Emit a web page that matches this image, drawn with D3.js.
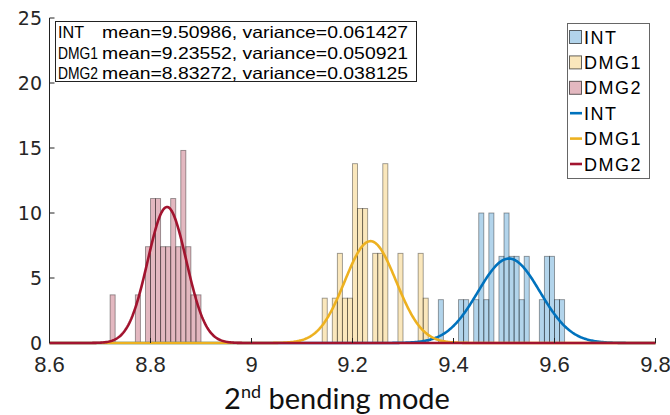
<!DOCTYPE html>
<html>
<head>
<meta charset="utf-8">
<script src="https://cdn.jsdelivr.net/npm/d3@7"></script>
<style>
  body { margin: 0; background: #fff; }
  svg { display: block; }
</style>
</head>
<body>
<svg id="chart" width="670" height="415"></svg>
<script>
// groups, fit parameters (as printed in the box) and histogram counts (bin width 0.01)
const groups = ['INT', 'DMG1', 'DMG2'];
const means = [9.50986, 9.23552, 8.83272];
const sigmas = [0.061427, 0.050921, 0.038125];
const binWidth = 0.01;
const binStart = [9.37, 9.14, 8.72];
const countsINT = [1, 0, 0, 0, 1, 1, 0, 1, 3, 1, 3, 0, 2, 3, 2, 2, 1, 2, 0, 0, 1, 2, 2, 1, 1];
const countsDMG1 = [1, 0, 1, 2, 1, 1, 4, 3, 3, 0, 2, 2, 4, 0, 0, 2, 0, 0, 0, 2, 1];
const countsDMG2 = [1, 0, 0, 0, 0, 1, 0, 2, 3, 3, 2, 2, 3, 2, 4, 2, 1, 1];
const counts = [countsINT, countsDMG1, countsDMG2];
const colors = ['#0072BD', '#EDB120', '#A2142F'];
const xTicks = [8.6, 8.8, 9, 9.2, 9.4, 9.6, 9.8];
const yTicks = [0, 5, 10, 15, 20, 25];
const statLines = [
  ['INT', 'mean=9.50986, variance=0.061427'],
  ['DMG1', 'mean=9.23552, variance=0.050921'],
  ['DMG2', 'mean=8.83272, variance=0.038125']
];

const svg = d3.select('#chart');
const x = d3.scaleLinear().domain([8.6, 9.8]).range([49.5, 655.5]);
const y = d3.scaleLinear().domain([0, 25]).range([343, 18]);

// histograms, normalised as pdf
groups.forEach((g, gi) => {
   let n = d3.sum(counts[gi]);
   let bins = counts[gi].map((c, i) => ({ x0: binStart[gi] + i * binWidth, c: c })).filter(d => d.c > 0);
   svg.append('g').selectAll('rect')
      .data(bins).enter()
      .append('rect')
      .attr('x', d => x(d.x0))
      .attr('width', x(binStart[gi] + binWidth) - x(binStart[gi]))
      .attr('y', d => y(d.c / (n * binWidth)))
      .attr('height', d => y(0) - y(d.c / (n * binWidth)))
      .style('fill', colors[gi])
      .style('fill-opacity', 0.3)
      .style('stroke', '#000')
      .style('stroke-opacity', 0.4)
      .style('stroke-width', 0.9);
});

// axes (box off, ticks pointing in)
const axes = svg.append('g').style('stroke', '#222').style('stroke-width', 1);
axes.append('line').attr('x1', x(8.6)).attr('x2', x(9.8)).attr('y1', y(0)).attr('y2', y(0));
axes.append('line').attr('x1', x(8.6)).attr('x2', x(8.6)).attr('y1', y(0)).attr('y2', y(25));
axes.selectAll('.yt').data(yTicks).enter().append('line')
   .attr('x1', x(8.6)).attr('x2', x(8.6) + 5)
   .attr('y1', d => y(d)).attr('y2', d => y(d));

// fitted normal curves
const pts = d3.range(0, 601).map(i => 8.6 + i * 1.2 / 600);
const line = d3.line().x(d => x(d[0])).y(d => y(d[1]));
groups.forEach((g, gi) => {
   let m = means[gi], s = sigmas[gi];
   let data = pts.map(v => [v, Math.exp(-0.5 * ((v - m) / s) ** 2) / (s * Math.sqrt(2 * Math.PI))]);
   svg.append('path')
      .datum(data)
      .attr('d', line)
      .style('fill', 'none')
      .style('stroke', colors[gi])
      .style('stroke-width', 2.6);
});

// bottom ticks drawn on top
svg.append('g').selectAll('line').data(xTicks).enter().append('line')
   .attr('x1', d => x(d)).attr('x2', d => x(d))
   .attr('y1', y(0)).attr('y2', y(0) - 5)
   .style('stroke', '#222').style('stroke-width', 1);

// tick labels
svg.append('g').selectAll('text').data(xTicks).enter().append('text')
   .attr('x', d => x(d)).attr('y', 372)
   .attr('text-anchor', 'middle')
   .style('font-family', 'Liberation Sans, Arial, sans-serif')
   .style('font-size', '22px')
   .style('fill', '#262626')
   .text(d => d3.format('~g')(d));

svg.append('g').selectAll('text').data(yTicks).enter().append('text')
   .attr('x', 42).attr('y', d => y(d) + 7)
   .attr('text-anchor', 'end')
   .style('font-family', 'DejaVu Sans, sans-serif')
   .style('font-size', '19px')
   .style('fill', '#262626')
   .text(d => d);

// x label
const xl = svg.append('text')
   .attr('x', 337).attr('y', 409)
   .attr('text-anchor', 'middle')
   .style('font-family', 'Lato, sans-serif')
   .style('font-size', '29px')
   .style('fill', '#111');
xl.append('tspan').text('2');
xl.append('tspan').attr('dy', -11).style('font-size', '18px').text('nd');
xl.append('tspan').attr('dy', 11).text(' bending mode');

// statistics box
svg.append('rect')
   .attr('x', 55.5).attr('y', 21.5).attr('width', 361).attr('height', 60)
   .style('fill', '#fff').style('stroke', '#222').style('stroke-width', 1);
const st = svg.append('g')
   .style('font-family', 'Liberation Sans, Arial, sans-serif')
   .style('font-size', '16.5px')
   .style('fill', '#000');
statLines.forEach((l, i) => {
   st.append('text').attr('x', 58).attr('y', 38 + i * 20.5)
      .attr('textLength', l[0].length == 3 ? 26 : 40).attr('lengthAdjust', 'spacingAndGlyphs')
      .text(l[0]);
   st.append('text').attr('x', 102).attr('y', 38 + i * 20.5)
      .attr('textLength', 306).attr('lengthAdjust', 'spacingAndGlyphs')
      .text(l[1]);
});

// legend
const leg = svg.append('g');
leg.append('rect')
   .attr('x', 567.5).attr('y', 23.5).attr('width', 82).attr('height', 155)
   .style('fill', '#fff').style('stroke', '#666').style('stroke-width', 1);
const legItems = groups.map((g, i) => ({ label: g, type: 'bar', c: colors[i] }))
   .concat(groups.map((g, i) => ({ label: g, type: 'line', c: colors[i] })));
legItems.forEach((d, i) => {
   let cy = 37 + i * 25.4;
   if (d.type == 'bar') {
      leg.append('rect').attr('x', 569.5).attr('y', cy - 6.5).attr('width', 12).attr('height', 13)
         .style('fill', d.c).style('fill-opacity', 0.3)
         .style('stroke', '#000').style('stroke-opacity', 0.6);
   } else {
      leg.append('line').attr('x1', 570).attr('x2', 582).attr('y1', cy).attr('y2', cy)
         .style('stroke', d.c).style('stroke-width', 2.6);
   }
   leg.append('text').attr('x', 584).attr('y', cy + 6.5)
      .style('font-family', 'Liberation Sans, Arial, sans-serif')
      .style('font-size', '18px')
      .style('letter-spacing', '1.5px')
      .text(d.label);
});
</script>
</body>
</html>
